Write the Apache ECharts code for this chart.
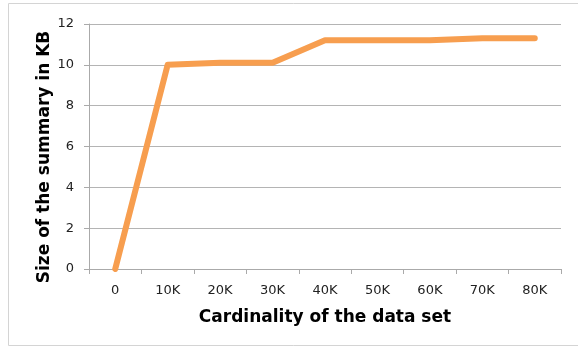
<!DOCTYPE html>
<html>
<head>
<meta charset="utf-8">
<script src="https://cdn.jsdelivr.net/npm/echarts@6/dist/echarts.min.js"></script>
<style>
  html, body { margin: 0; padding: 0; background: #fff; overflow: hidden; }
  #chart { width: 578px; height: 347px; }
</style>
</head>
<body>
<div id="chart"></div>
<script>
const categories = ['0', '10K', '20K', '30K', '40K', '50K', '60K', '70K', '80K'];
const summarySizes = [0, 10, 10.1, 10.1, 11.2, 11.2, 11.2, 11.3, 11.3];
const xTitle = 'Cardinality of the data set';
const yTitle = 'Size of the summary in KB';

const chart = echarts.init(document.getElementById('chart'));

const options = {
  animation: false,
  grid: { left: 89, right: 17, top: 24, bottom: 78 },
  graphic: [
    {
      // chart border, open on the right like the original crop
      type: 'polyline',
      silent: true,
      shape: { points: [[578, 3.5], [8.5, 3.5], [8.5, 345.5], [578, 345.5]] },
      style: { stroke: '#d4d4d4', lineWidth: 1, fill: null }
    },
    {
      type: 'text',
      x: 45,
      y: 157,
      rotation: Math.PI / 2,
      style: {
        text: yTitle,
        fontFamily: 'DejaVu Sans',
        fontWeight: 'bold',
        fontSize: 17,
        fill: '#000',
        align: 'center',
        verticalAlign: 'middle'
      }
    }
  ],
  xAxis: {
    type: 'category',
    data: categories,
    boundaryGap: true,
    name: xTitle,
    nameLocation: 'middle',
    nameGap: 40,
    nameTextStyle: { fontFamily: 'DejaVu Sans', fontWeight: 'bold', fontSize: 17, color: '#000' },
    axisLine: { lineStyle: { color: '#aaa', width: 1 } },
    axisTick: { show: true, alignWithLabel: false, length: 5, lineStyle: { color: '#aaa' } },
    axisLabel: { color: '#222', fontFamily: 'DejaVu Sans', fontSize: 13, margin: 15 }
  },
  yAxis: {
    type: 'value',
    min: 0,
    max: 12,
    interval: 2,
    axisLine: { show: true, lineStyle: { color: '#aaa', width: 1 } },
    axisTick: { show: true, length: 5, lineStyle: { color: '#aaa' } },
    axisLabel: { color: '#222', fontFamily: 'DejaVu Sans', fontSize: 13, margin: 15 },
    splitLine: { lineStyle: { color: '#b4b4b4', width: 1 } }
  },
  series: [
    {
      type: 'line',
      data: summarySizes,
      showSymbol: false,
      symbol: 'none',
      lineStyle: { color: '#F79E4F', width: 6, cap: 'round', join: 'round' }
    }
  ]
};

chart.setOption(options);
</script>
</body>
</html>
